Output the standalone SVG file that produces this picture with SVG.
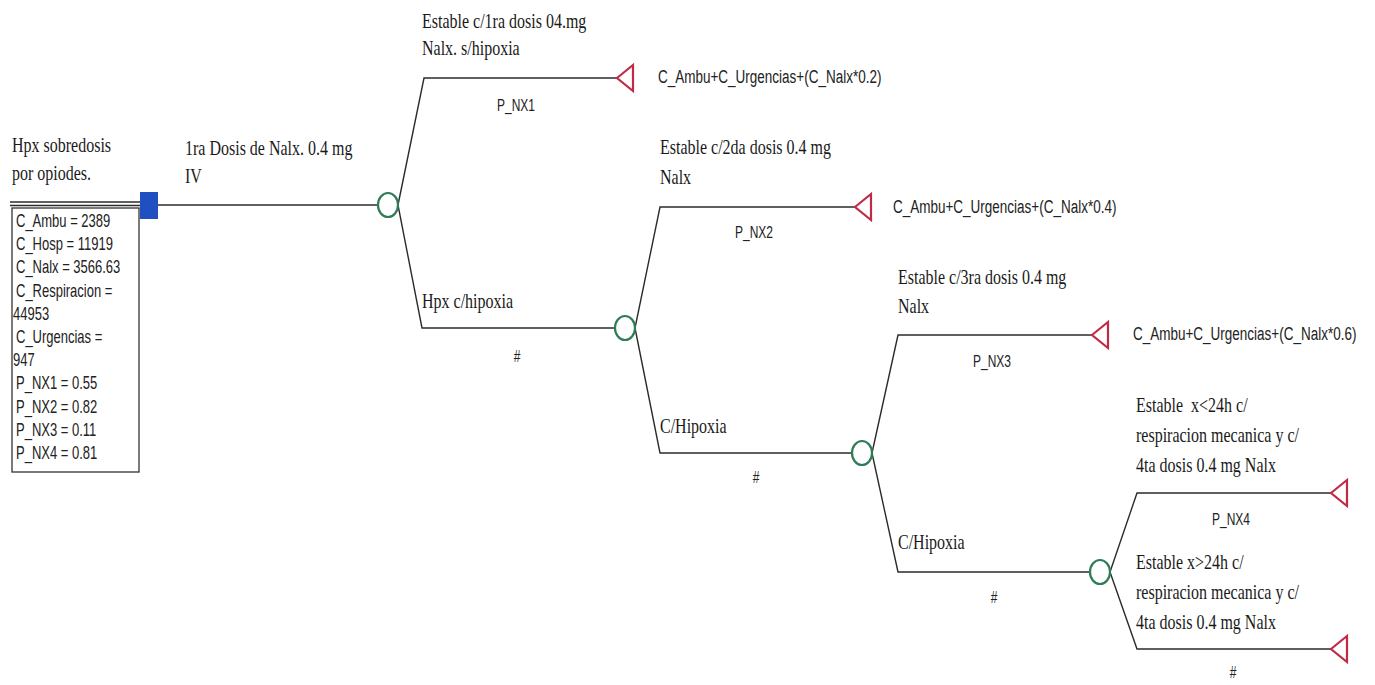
<svg xmlns="http://www.w3.org/2000/svg" width="1375" height="685" viewBox="0 0 1375 685">
  <style>
    .ln { stroke: #2b2b2b; stroke-width: 1.4; fill: none; }
    .chance { fill: #ffffff; stroke: #2e7d57; stroke-width: 2.2; }
    .term { fill: #ffffff; stroke: #c02a45; stroke-width: 2.2; stroke-linejoin: miter; }
    .dec { fill: #1f4fc0; }
    .box { fill: #ffffff; stroke: #333333; stroke-width: 1.3; }
    .lab { font-family: "Liberation Serif", "Times New Roman", serif; font-size: 16px; fill: #1a1a1a; }
    .prob { font-family: "Liberation Sans", Arial, sans-serif; font-size: 12px; fill: #222222; text-anchor: middle; }
    .pay { font-family: "Liberation Sans", Arial, sans-serif; font-size: 13.5px; fill: #222222; }
    .var { font-family: "Liberation Sans", Arial, sans-serif; font-size: 13px; fill: #222222; }
  </style>

  <!-- branch lines of the tree -->
  <g id="connectors">
    <line class="ln" x1="10" y1="202" x2="140" y2="202"/>
    <line class="ln" x1="10" y1="205.5" x2="140" y2="205.5"/>
    <line class="ln" x1="158" y1="205" x2="378" y2="205"/>
    <polyline class="ln" points="398,205 424,78 617,78"/>
    <polyline class="ln" points="398,205 422,328 615,328"/>
    <polyline class="ln" points="635,328 660,207 855,207"/>
    <polyline class="ln" points="635,328 660,453 852,453"/>
    <polyline class="ln" points="872,453 898,335 1092,335"/>
    <polyline class="ln" points="872,453 898,572 1090,572"/>
    <polyline class="ln" points="1110,572 1137,493 1331,493"/>
    <polyline class="ln" points="1110,572 1137,649 1331,649"/>
  </g>

  <!-- root decision -->
  <g id="root">
    <text class="lab" transform="translate(12,152) scale(1,1.3)">Hpx sobredosis</text>
    <text class="lab" transform="translate(12,180) scale(1,1.3)">por opiodes.</text>
    <rect class="dec" x="140" y="192" width="18" height="27"/>
  </g>

  <!-- variable definitions -->
  <g id="variables">
    <rect class="box" x="12" y="208" width="127" height="264"/>
    <text class="var" transform="translate(16,227) scale(1,1.4)">C_Ambu = 2389</text>
    <text class="var" transform="translate(16,250.2) scale(1,1.4)">C_Hosp = 11919</text>
    <text class="var" transform="translate(16,273.4) scale(1,1.4)">C_Nalx = 3566.63</text>
    <text class="var" transform="translate(16,296.6) scale(1,1.4)">C_Respiracion =</text>
    <text class="var" transform="translate(13,319.8) scale(1,1.4)">44953</text>
    <text class="var" transform="translate(16,343) scale(1,1.4)">C_Urgencias =</text>
    <text class="var" transform="translate(13,366.2) scale(1,1.4)">947</text>
    <text class="var" transform="translate(16,389.4) scale(1,1.4)">P_NX1 = 0.55</text>
    <text class="var" transform="translate(16,412.6) scale(1,1.4)">P_NX2 = 0.82</text>
    <text class="var" transform="translate(16,435.8) scale(1,1.4)">P_NX3 = 0.11</text>
    <text class="var" transform="translate(16,459) scale(1,1.4)">P_NX4 = 0.81</text>
  </g>

  <!-- first dose -->
  <g id="dose1">
    <text class="lab" transform="translate(185,155) scale(1,1.3)">1ra Dosis de Nalx. 0.4 mg</text>
    <text class="lab" transform="translate(185,183) scale(1,1.3)">IV</text>
    <ellipse class="chance" cx="388" cy="205" rx="10" ry="12"/>
  </g>

  <!-- stable after first dose -->
  <g id="stable1">
    <text class="lab" transform="translate(422,28) scale(1,1.3)">Estable c/1ra dosis 04.mg</text>
    <text class="lab" transform="translate(422,55) scale(1,1.3)">Nalx. s/hipoxia</text>
    <text class="prob" transform="translate(516,111) scale(1,1.3)">P_NX1</text>
    <polygon class="term" points="617,78 633,65 633,91"/>
    <text class="pay" transform="translate(658,83) scale(1,1.3)">C_Ambu+C_Urgencias+(C_Nalx*0.2)</text>
  </g>

  <!-- hypoxia after first dose -->
  <g id="hypoxia1">
    <text class="lab" transform="translate(422,308) scale(1,1.3)">Hpx c/hipoxia</text>
    <text class="prob" transform="translate(517,362) scale(1,1.3)">#</text>
    <ellipse class="chance" cx="625" cy="328" rx="10" ry="12"/>
  </g>

  <!-- stable after second dose -->
  <g id="stable2">
    <text class="lab" transform="translate(660,154) scale(1,1.3)">Estable c/2da dosis 0.4 mg</text>
    <text class="lab" transform="translate(660,184) scale(1,1.3)">Nalx</text>
    <text class="prob" transform="translate(754,238) scale(1,1.3)">P_NX2</text>
    <polygon class="term" points="855,207 871,194 871,220"/>
    <text class="pay" transform="translate(893,213) scale(1,1.3)">C_Ambu+C_Urgencias+(C_Nalx*0.4)</text>
  </g>

  <!-- hypoxia after second dose -->
  <g id="hypoxia2">
    <text class="lab" transform="translate(660,433) scale(1,1.3)">C/Hipoxia</text>
    <text class="prob" transform="translate(756,483) scale(1,1.3)">#</text>
    <ellipse class="chance" cx="862" cy="453" rx="10" ry="12"/>
  </g>

  <!-- stable after third dose -->
  <g id="stable3">
    <text class="lab" transform="translate(898,284) scale(1,1.3)">Estable c/3ra dosis 0.4 mg</text>
    <text class="lab" transform="translate(898,313) scale(1,1.3)">Nalx</text>
    <text class="prob" transform="translate(992,367) scale(1,1.3)">P_NX3</text>
    <polygon class="term" points="1092,335 1108,322 1108,348"/>
    <text class="pay" transform="translate(1133,340) scale(1,1.3)">C_Ambu+C_Urgencias+(C_Nalx*0.6)</text>
  </g>

  <!-- hypoxia after third dose -->
  <g id="hypoxia3">
    <text class="lab" transform="translate(898,549) scale(1,1.3)">C/Hipoxia</text>
    <text class="prob" transform="translate(994,603) scale(1,1.3)">#</text>
    <ellipse class="chance" cx="1100" cy="572" rx="10" ry="12"/>
  </g>

  <!-- stable under 24 h -->
  <g id="stable4a">
    <text class="lab" transform="translate(1136,412) scale(1,1.3)" xml:space="preserve">Estable  x&lt;24h c/</text>
    <text class="lab" transform="translate(1136,442) scale(1,1.3)">respiracion mecanica y c/</text>
    <text class="lab" transform="translate(1136,472) scale(1,1.3)">4ta dosis 0.4 mg Nalx</text>
    <text class="prob" transform="translate(1231,525) scale(1,1.3)">P_NX4</text>
    <polygon class="term" points="1331,493 1347,480 1347,506"/>
  </g>

  <!-- stable over 24 h -->
  <g id="stable4b">
    <text class="lab" transform="translate(1136,569) scale(1,1.3)">Estable x&gt;24h c/</text>
    <text class="lab" transform="translate(1136,599) scale(1,1.3)">respiracion mecanica y c/</text>
    <text class="lab" transform="translate(1136,629) scale(1,1.3)">4ta dosis 0.4 mg Nalx</text>
    <text class="prob" transform="translate(1233,678) scale(1,1.3)">#</text>
    <polygon class="term" points="1331,649 1347,636 1347,662"/>
  </g>
</svg>
